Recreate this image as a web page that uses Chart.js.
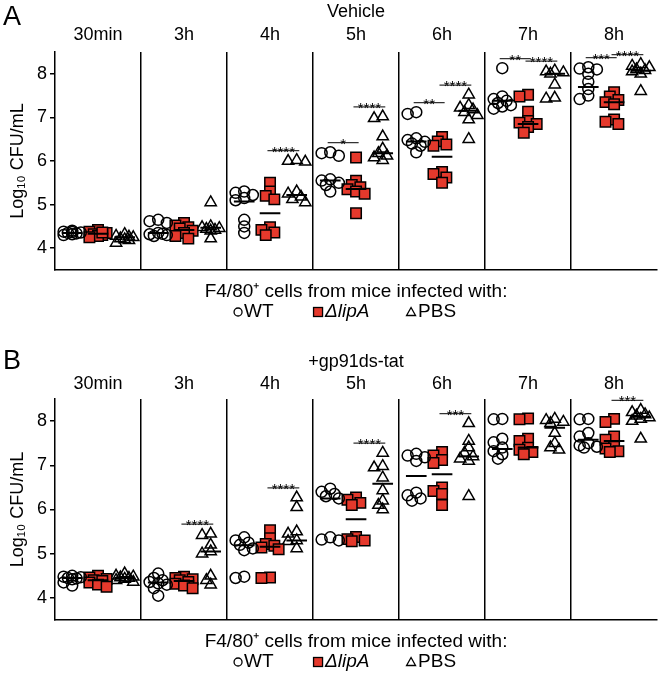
<!DOCTYPE html>
<html>
<head>
<meta charset="utf-8">
<script src="https://cdn.jsdelivr.net/npm/chart.js@4.4.0/dist/chart.umd.min.js"></script>
<style>
  html, body { margin: 0; padding: 0; background: #fff; }
  canvas { display: block; }
</style>
</head>
<body>
<canvas id="panelA" width="666" height="340"></canvas>
<canvas id="panelB" width="666" height="337"></canvas>
<script>
const facets = ["30min", "3h", "4h", "5h", "6h", "7h", "8h"];
const groupNames = ["WT", "ΔlipA", "PBS"];

// Panel A: vehicle, Log10 CFU/mL per facet
const vehicleWT = [
  [4.40, 4.38, 4.36, 4.35, 4.34, 4.32, 4.30, 4.37],
  [4.65, 4.62, 4.58, 4.35, 4.32, 4.30, 4.28, 4.33],
  [5.30, 5.27, 5.22, 5.15, 5.10, 4.65, 4.50, 4.35],
  [6.20, 6.18, 6.12, 5.58, 5.55, 5.50, 5.45, 5.30],
  [7.12, 7.08, 6.52, 6.48, 6.44, 6.40, 6.35, 6.20],
  [8.13, 7.48, 7.42, 7.38, 7.33, 7.28, 7.25, 7.20],
  [8.15, 8.12, 8.10, 8.00, 7.82, 7.65, 7.50, 7.42]
];
const vehicleLipA = [
  [4.42, 4.38, 4.35, 4.32, 4.30, 4.28, 4.25, 4.36],
  [4.58, 4.52, 4.48, 4.45, 4.40, 4.35, 4.28, 4.22],
  [5.50, 5.30, 5.20, 5.12, 4.48, 4.42, 4.36, 4.30],
  [6.08, 5.55, 5.45, 5.40, 5.35, 5.30, 5.25, 4.80],
  [6.55, 6.45, 6.38, 6.35, 5.75, 5.70, 5.62, 5.50],
  [7.52, 7.48, 7.13, 6.92, 6.88, 6.85, 6.78, 6.65],
  [7.58, 7.48, 7.40, 7.35, 7.30, 6.95, 6.90, 6.85]
];
const vehiclePBS = [
  [4.32, 4.28, 4.25, 4.22, 4.18, 4.12, 4.26, 4.20],
  [5.05, 4.50, 4.48, 4.46, 4.44, 4.42, 4.40, 4.22],
  [6.02, 6.00, 5.98, 5.30, 5.25, 5.18, 5.12, 5.05],
  [7.02, 6.98, 6.56, 6.28, 6.18, 6.12, 6.08, 6.02],
  [7.52, 7.28, 7.22, 7.18, 7.12, 7.05, 6.95, 6.50],
  [8.07, 8.05, 8.03, 8.00, 7.75, 7.45, 7.43],
  [8.22, 8.18, 8.15, 8.10, 8.08, 8.05, 8.00, 7.60]
];
const vehicleWTLine = [4.35, 4.35, 5.07, 5.55, 6.45, 7.38, 7.70];
const vehicleLipALine = [4.33, 4.42, 4.80, 5.36, 6.10, 6.85, 7.35];
const vehiclePBSLine = [4.25, 4.47, 5.22, 6.18, 7.15, 8.00, 8.07];
const vehicleSig = [
  [2, 1, 2, "****"], [3, 0, 1, "*"], [3, 1, 2, "****"], [4, 0, 1, "**"],
  [4, 1, 2, "****"], [5, 0, 1, "**"], [5, 1, 2, "****"], [6, 0, 1, "***"], [6, 1, 2, "****"]
];

// Panel B: +gp91ds-tat
const gpWT = [
  [4.50, 4.48, 4.47, 4.45, 4.44, 4.42, 4.35, 4.28],
  [4.55, 4.45, 4.40, 4.36, 4.33, 4.30, 4.22, 4.05],
  [5.37, 5.30, 5.25, 5.20, 5.12, 5.08, 4.48, 4.45],
  [6.47, 6.40, 6.35, 6.30, 6.25, 5.37, 5.32, 5.30],
  [7.26, 7.22, 7.18, 7.10, 6.38, 6.32, 6.25, 6.20],
  [8.05, 8.04, 7.60, 7.52, 7.40, 7.32, 7.25, 7.15],
  [8.05, 8.04, 7.73, 7.65, 7.50, 7.45, 7.42, 7.40]
];
const gpLipA = [
  [4.50, 4.46, 4.43, 4.40, 4.38, 4.35, 4.30, 4.25],
  [4.48, 4.45, 4.42, 4.40, 4.36, 4.32, 4.28, 4.22],
  [5.53, 5.35, 5.22, 5.18, 5.14, 5.10, 4.46, 4.45],
  [6.27, 6.22, 6.15, 6.10, 5.38, 5.33, 5.30, 5.28],
  [7.30, 7.22, 7.12, 7.05, 6.50, 6.42, 6.35, 6.10],
  [8.06, 8.04, 7.60, 7.55, 7.40, 7.35, 7.30, 7.25],
  [8.05, 7.98, 7.65, 7.58, 7.42, 7.38, 7.32, 7.30]
];
const gpPBS = [
  [4.55, 4.50, 4.48, 4.46, 4.45, 4.43, 4.40, 4.36],
  [5.45, 5.42, 5.20, 5.05, 5.00, 4.50, 4.40, 4.30],
  [6.27, 6.05, 5.50, 5.45, 5.30, 5.28, 5.12],
  [7.28, 6.98, 6.95, 6.72, 6.43, 6.20, 6.10, 6.00],
  [7.95, 7.55, 7.40, 7.28, 7.20, 7.15, 7.10, 6.30],
  [8.05, 8.02, 7.98, 7.95, 7.73, 7.50, 7.40, 7.35],
  [8.25, 8.20, 8.15, 8.12, 8.08, 8.05, 8.00, 7.60]
];
const gpWTLine = [4.45, 4.35, 5.19, 6.25, 6.76, 7.37, 7.58];
const gpLipALine = [4.40, 4.38, 5.16, 5.78, 6.80, 7.40, 7.55];
const gpPBSLine = [4.45, 5.05, 5.30, 6.58, 7.20, 7.85, 8.10];
const gpSig = [
  [1, 1, 2, "****"], [2, 1, 2, "****"], [3, 1, 2, "****"], [4, 1, 2, "***"], [6, 1, 2, "***"]
];

const FONT = "'Liberation Sans', Arial, Helvetica, sans-serif";
const RED = "#e5392c";
const groupPos = [0.2, 0.5, 0.81];
const PX_X = 86.7, PX_Y = 43.8;  // rough px per unit, only for dodging points
const STEP = 0.05, MIN_GAP = 6, HALF = 0.12, SIG_GAP = 0.22;

Chart.defaults.font.family = FONT;
Chart.defaults.color = "#000";

// simple deterministic beeswarm: push a point sideways while it overlaps one already placed
const swarm = (values, center) => {
  const placed = [];
  values.forEach(v => {
    let best = center, bestD = -1;
    for (const k of [0, -1, 1, -2, 2]) {
      const x = center + k * STEP;
      let d = Infinity;
      placed.forEach(p => {
        d = Math.min(d, Math.hypot((x - p.x) * PX_X, (v - p.y) * PX_Y));
      });
      if (d >= MIN_GAP) { best = x; break; }
      if (d > bestD) { bestD = d; best = x; }
    }
    placed.push({ x: best, y: v });
  });
  return placed;
};

const segments = (lines, g) => lines.flatMap((m, f) => {
  const c = f + groupPos[g];
  return [{ x: c - HALF, y: m }, { x: c + HALF, y: m }, { x: c + HALF, y: null }];
});

const sigY = (groups, s) => Math.max(...groups[s[1]][s[0]], ...groups[s[2]][s[0]]) + SIG_GAP;

const panelDecor = {
  id: "panelDecor",
  afterDraw(chart, args, opts) {
    const { ctx, chartArea, scales } = chart;
    const cx = (chartArea.left + chartArea.right) / 2;
    ctx.save();
    ctx.fillStyle = "#000";
    ctx.strokeStyle = "#000";

    ctx.font = `27px ${FONT}`;
    ctx.textAlign = "left";
    ctx.textBaseline = "middle";
    ctx.fillText(opts.letter, 3, opts.letterY);

    ctx.font = `18px ${FONT}`;
    ctx.textAlign = "center";
    ctx.fillText(opts.title, cx, opts.titleY);

    // stars above the comparison bars
    ctx.font = `15px ${FONT}`;
    ctx.textBaseline = "alphabetic";
    opts.sig.forEach(s => {
      const x = scales.x.getPixelForValue(s[0] + (groupPos[s[1]] + groupPos[s[2]]) / 2);
      const y = scales.y.getPixelForValue(sigY(opts.groups, s));
      ctx.fillText(s[3], x, y + 6);
    });

    // legend
    const ty = chartArea.bottom + 22, iy = chartArea.bottom + 42;
    ctx.font = `19px ${FONT}`;
    ctx.textBaseline = "middle";
    ctx.fillText("F4/80⁺ cells from mice infected with:", cx, ty);
    ctx.textAlign = "left";
    ctx.lineWidth = 1.3;
    ctx.beginPath();
    ctx.arc(cx - 118, iy, 4, 0, Math.PI * 2);
    ctx.stroke();
    ctx.fillText(groupNames[0], cx - 112, iy);
    ctx.fillStyle = RED;
    ctx.fillRect(cx - 42.5, iy - 4.5, 9, 9);
    ctx.strokeRect(cx - 42.5, iy - 4.5, 9, 9);
    ctx.fillStyle = "#000";
    ctx.font = `italic 19px ${FONT}`;
    ctx.fillText(groupNames[1], cx - 31, iy);
    ctx.beginPath();
    ctx.moveTo(cx + 55, iy - 4.5);
    ctx.lineTo(cx + 59.5, iy + 3.5);
    ctx.lineTo(cx + 50.5, iy + 3.5);
    ctx.closePath();
    ctx.stroke();
    ctx.font = `19px ${FONT}`;
    ctx.fillText(groupNames[2], cx + 62, iy);
    ctx.restore();
  }
};

const makePanel = (id, p) => {
  const groups = [p.wt, p.lipA, p.pbs];
  const looks = [
    { pointStyle: "circle", pointRadius: 5.5, backgroundColor: "rgba(255,255,255,0)" },
    { pointStyle: "rect", pointRadius: 7.4, backgroundColor: RED },
    { pointStyle: "triangle", pointRadius: 6.5, backgroundColor: "rgba(255,255,255,0)" }
  ];
  const datasets = groups.map((vals, g) => ({
    label: groupNames[g],
    data: vals.flatMap((v, f) => swarm(v, f + groupPos[g])),
    ...looks[g],
    borderColor: "#000",
    borderWidth: 1.5,
    order: 2
  }));
  datasets.push({
    label: "line",
    data: [p.wtLine, p.lipALine, p.pbsLine].flatMap((l, g) => segments(l, g)),
    showLine: true, spanGaps: false, pointRadius: 0,
    borderColor: "#000", borderWidth: 2, order: 1
  });
  datasets.push({
    label: "sig",
    data: p.sig.flatMap(s => {
      const y = sigY(groups, s);
      return [{ x: s[0] + groupPos[s[1]] - 0.03, y }, { x: s[0] + groupPos[s[2]] + 0.03, y }, { x: s[0] + groupPos[s[2]], y: null }];
    }),
    showLine: true, spanGaps: false, pointRadius: 0,
    borderColor: "#333", borderWidth: 1.3, order: 1
  });

  new Chart(document.getElementById(id), {
    type: "scatter",
    data: { datasets },
    options: {
      responsive: false,
      animation: false,
      events: [],
      layout: { padding: { left: 0, right: 4, top: 0, bottom: 0 } },
      scales: {
        x: {
          type: "linear", min: 0, max: 7, position: "bottom",
          afterBuildTicks: s => { s.ticks = [0, 1, 2, 3, 4, 5, 6, 7].map(value => ({ value })); },
          afterFit: s => { s.height = p.bottomH; },
          ticks: { display: false },
          grid: {
            drawTicks: false, lineWidth: 1.5,
            color: c => (c.tick && c.tick.value > 0 && c.tick.value < 7) ? "#000" : "rgba(0,0,0,0)"
          },
          border: { display: true, color: "#000", width: 1.5 }
        },
        xTop: {
          type: "linear", min: 0, max: 7, position: "top",
          afterBuildTicks: s => { s.ticks = facets.map((f, i) => ({ value: i + 0.5 })); },
          afterFit: s => { s.height = p.topH; },
          ticks: {
            autoSkip: false, maxRotation: 0, padding: p.facetPad,
            font: { size: 18 }, color: "#000",
            callback: (v, i) => facets[i]
          },
          grid: { display: false, drawTicks: false },
          border: { display: false }
        },
        y: {
          min: 3.5, max: 8.5,
          afterBuildTicks: s => { s.ticks = [4, 5, 6, 7, 8].map(value => ({ value })); },
          afterFit: s => { s.width = 55; },
          ticks: { font: { size: 18 }, color: "#000", padding: 3 },
          grid: { drawOnChartArea: false, drawTicks: true, tickLength: 5, color: "#000", lineWidth: 1.5 },
          border: { display: true, color: "#000", width: 1.5 },
          title: { display: true, text: "Log₁₀ CFU/mL", font: { size: 18 }, color: "#000", padding: { top: 7 } }
        }
      },
      plugins: {
        legend: { display: false },
        tooltip: { enabled: false },
        panelDecor: {
          letter: p.letter, letterY: p.letterY, title: p.title, titleY: p.titleY,
          sig: p.sig, groups
        }
      }
    },
    plugins: [panelDecor]
  });
};

makePanel("panelA", {
  wt: vehicleWT, lipA: vehicleLipA, pbs: vehiclePBS,
  wtLine: vehicleWTLine, lipALine: vehicleLipALine, pbsLine: vehiclePBSLine,
  sig: vehicleSig, letter: "A", letterY: 18, title: "Vehicle", titleY: 12,
  topH: 52, bottomH: 70, facetPad: 6
});
makePanel("panelB", {
  wt: gpWT, lipA: gpLipA, pbs: gpPBS,
  wtLine: gpWTLine, lipALine: gpLipALine, pbsLine: gpPBSLine,
  sig: gpSig, letter: "B", letterY: 22, title: "+gp91ds-tat", titleY: 22,
  topH: 59, bottomH: 57, facetPad: 4
});
</script>
</body>
</html>
